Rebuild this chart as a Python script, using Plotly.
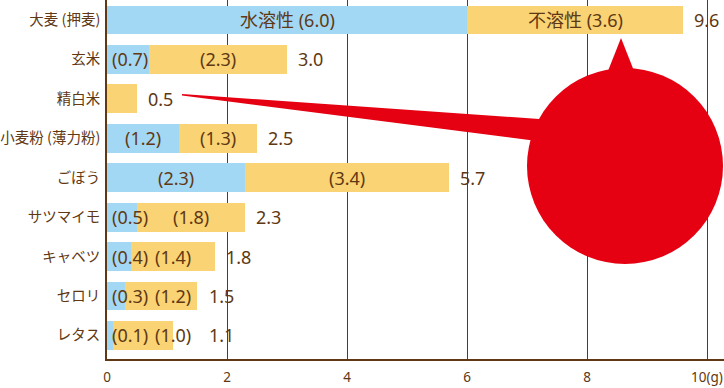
import plotly.graph_objects as go

categories = ["大麦 (押麦)", "玄米", "精白米", "小麦粉 (薄力粉)", "ごぼう", "サツマイモ", "キャベツ", "セロリ", "レタス"]
soluble = [6.0, 0.7, 0.0, 1.2, 2.3, 0.5, 0.4, 0.3, 0.1]
insoluble = [3.6, 2.3, 0.5, 1.3, 3.4, 1.8, 1.4, 1.2, 1.0]
totals = [9.6, 3.0, 0.5, 2.5, 5.7, 2.3, 1.8, 1.5, 1.1]
x_tickvals = [0, 2, 4, 6, 8, 10]
x_ticktext = ["0", "2", "4", "6", "8", "10(g)"]

BLUE = "#a3d8f5"
YELLOW = "#f9d374"
BROWN = "#603813"
RED = "#e50012"
FONT = "Noto Sans, Noto Sans CJK JP"

W, H = 724, 388
ML, MR, MT, MB = 107, 0, 0, 29
PX_PER_UNIT = 60.0
plot_w = W - ML - MR
plot_h = H - MT - MB
xmax = plot_w / PX_PER_UNIT

fig = go.Figure()
fig.add_trace(go.Bar(y=categories, x=soluble, orientation="h", marker=dict(color=BLUE, line=dict(width=0)),
                     width=0.735, hoverinfo="skip", showlegend=False))
fig.add_trace(go.Bar(y=categories, x=insoluble, orientation="h", marker=dict(color=YELLOW, line=dict(width=0)),
                     width=0.735, hoverinfo="skip", showlegend=False))

annotations = []
for i, cat in enumerate(categories):
    s, ins, t = soluble[i], insoluble[i], totals[i]
    if i == 0:
        stext = f"水溶性 ({s:.1f})"
        itext = f"不溶性 ({ins:.1f})"
    else:
        stext = f"({s:.1f})" if s > 0 else ""
        itext = f"({ins:.1f})" if s > 0 else ""
    if stext:
        annotations.append(dict(x=max(s / 2, 0.38), y=cat, text=stext, showarrow=False,
                                xanchor="center", yanchor="middle", font=dict(size=18, color=BROWN, family=FONT)))
    if itext:
        annotations.append(dict(x=max(s + ins / 2, 1.1), y=cat, text=itext, showarrow=False,
                                xanchor="center", yanchor="middle", font=dict(size=18, color=BROWN, family=FONT)))
    tx = max(t, 1.52) if itext else t
    annotations.append(dict(x=tx, y=cat, text=f"{t:.1f}", showarrow=False, xanchor="left", xshift=9,
                            yanchor="middle", font=dict(size=18, color=BROWN, family=FONT)))


def px2x(px):
    return (px - ML) / PX_PER_UNIT


def py2y(py):
    return 1 - (py - MT) / plot_h


def path(points):
    return "M " + " L ".join(f"{px2x(a):.5f},{py2y(b):.5f}" for a, b in points) + " Z"


shapes = [
    dict(type="circle", xref="x", yref="paper", x0=px2x(527), x1=px2x(723), y0=py2y(264), y1=py2y(68),
         fillcolor=RED, line=dict(width=0), layer="above"),
    dict(type="path", xref="x", yref="paper", path=path([(606, 76), (621, 38), (636, 76)]),
         fillcolor=RED, line=dict(width=0), layer="above"),
    dict(type="path", xref="x", yref="paper", path=path([(182, 94), (560, 120.5), (560, 144), (182, 95.5)]),
         fillcolor=RED, line=dict(width=0), layer="above"),
]

fig.update_layout(
    width=W, height=H, margin=dict(l=ML, r=MR, t=MT, b=MB, autoexpand=False),
    barmode="stack",
    paper_bgcolor="white", plot_bgcolor="white",
    annotations=annotations, shapes=shapes,
    font=dict(family=FONT, color=BROWN),
    xaxis=dict(range=[0, xmax], tickvals=x_tickvals, ticktext=x_ticktext, showgrid=True, gridcolor=BROWN,
               gridwidth=1, zeroline=False, showline=True, linecolor=BROWN, linewidth=1.5, ticks="",
               tickfont=dict(size=13.5, color=BROWN, family=FONT), ticklabelstandoff=5, fixedrange=True,
               automargin=False),
    yaxis=dict(type="category", range=[8.598, -0.507], showgrid=False, zeroline=False, showline=True,
               linecolor=BROWN, linewidth=1.5, ticks="", ticklabelstandoff=2, automargin=False,
               tickfont=dict(size=14.5, color=BROWN, family="Noto Sans CJK JP"), fixedrange=True),
)

fig.write_html("out.html", config={"displayModeBar": False})
